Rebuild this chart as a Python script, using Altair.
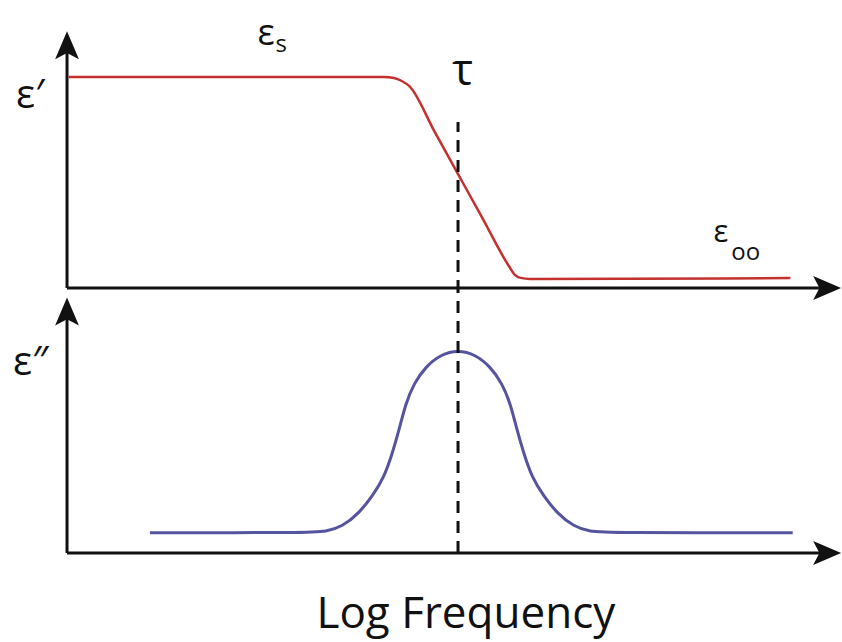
import altair as alt
import pandas as pd

# Log-frequency axis in arbitrary units; the relaxation (tau) sits at 5.
# Real part of the permittivity, normalised so that eps_s = 1.
real_u = [0.02, 4.05, 4.18, 4.28, 4.38, 4.70, 5.00, 5.30, 5.65, 5.72, 5.80, 5.92, 9.25]
real_v = [1.00, 1.00, 0.995, 0.981, 0.956, 0.741, 0.54, 0.339, 0.104, 0.065, 0.048, 0.043, 0.047]

# Imaginary part (loss peak), normalised so the peak is 1.
imag_u = [1.06, 3.095, 3.308, 3.520, 3.734, 3.904, 4.054, 4.160, 4.246, 4.331, 4.437, 4.587, 4.779,
          5.000,
          5.221, 5.413, 5.563, 5.669, 5.754, 5.840, 5.946, 6.096, 6.266, 6.480, 6.692, 6.905, 9.28]
imag_v = [0.100, 0.100, 0.105, 0.130, 0.196, 0.280, 0.372, 0.491, 0.606, 0.737, 0.836, 0.918, 0.978,
          1.000,
          0.978, 0.918, 0.836, 0.737, 0.606, 0.491, 0.372, 0.280, 0.196, 0.130, 0.105, 0.100, 0.100]

tau_u = 5.0

# Text annotations: (text, u, v, font size, align)
top_labels = [
    ("ε′", -0.47, 0.853, 40, "center"),
    ("ε", 2.545, 1.152, 36, "center"),
    ("s", 2.74, 1.118, 24, "center"),
    ("τ", 5.06, 0.962, 44, "center"),
    ("ε", 8.36, 0.218, 31, "center"),
    ("oo", 8.68, 0.133, 24, "center"),
]
bottom_labels = [
    ("ε″", -0.69, 0.877, 40, "left"),
    ("Log Frequency", 5.10, -0.369, 44, "center"),
]

W = 842
TOP_H = 292
BOT_H = 350
X_DOMAIN = [-0.857, 9.910]
TOP_DOMAIN = [-0.019, 1.365]
BOT_DOMAIN = [-0.4384, 1.2857]

FONT = "Open Sans"
INK = "#111111"
RED = "#c3302e"
BLUE = "#55549f"

UP_ARROW = "M0,-1 L0.85,1 L0,0.55 L-0.85,1 Z"
RIGHT_ARROW = "M1,0 L-1,0.85 L-0.55,0 L-1,-0.85 Z"


def xs():
    return alt.Scale(domain=X_DOMAIN, nice=False, zero=False)


def panel(domain, curve_df, color, width_px, interp, axis_top, x_arrow_end, dash_top, dash_bottom, labels):
    ys = alt.Scale(domain=domain, nice=False, zero=False)
    X = lambda f: alt.X(f, type="quantitative", scale=xs(), axis=None)
    Y = lambda f: alt.Y(f, type="quantitative", scale=ys, axis=None)

    axes_df = pd.DataFrame({
        "u": [0.0, 0.0], "v": [0.0, 0.0],
        "u2": [0.0, x_arrow_end], "v2": [axis_top, 0.0],
    })
    axes = alt.Chart(axes_df).mark_rule(color=INK, strokeWidth=3).encode(
        x=X("u"), y=Y("v"), x2="u2", y2="v2"
    )

    up_df = pd.DataFrame({"u": [0.0], "v": [axis_top]})
    up = alt.Chart(up_df).mark_point(
        shape=UP_ARROW, size=784, filled=True, color=INK, opacity=1, strokeWidth=0
    ).encode(x=X("u"), y=Y("v"))

    right_df = pd.DataFrame({"u": [x_arrow_end], "v": [0.0]})
    right = alt.Chart(right_df).mark_point(
        shape=RIGHT_ARROW, size=784, filled=True, color=INK, opacity=1, strokeWidth=0
    ).encode(x=X("u"), y=Y("v"))

    dash_df = pd.DataFrame({"u": [tau_u], "v": [dash_bottom], "v2": [dash_top]})
    dash = alt.Chart(dash_df).mark_rule(
        color=INK, strokeWidth=3, strokeDash=[12, 8]
    ).encode(x=X("u"), y=Y("v"), y2="v2")

    curve = alt.Chart(curve_df).mark_line(
        color=color, strokeWidth=width_px, interpolate=interp
    ).encode(x=X("u"), y=Y("v"), order="i:Q")

    layers = [axes, up, right, curve, dash]
    for text, u, v, size, align in labels:
        df = pd.DataFrame({"u": [u], "v": [v], "t": [text]})
        layers.append(
            alt.Chart(df).mark_text(
                font=FONT, fontSize=size, color=INK, align=align, baseline="alphabetic"
            ).encode(x=X("u"), y=Y("v"), text="t:N")
        )
    return alt.layer(*layers)


real_df = pd.DataFrame({"u": real_u, "v": real_v, "i": range(len(real_u))})
imag_df = pd.DataFrame({"u": imag_u, "v": imag_v, "i": range(len(imag_u))})

top = panel(TOP_DOMAIN, real_df, RED, 2.5, "monotone", 1.15, 9.72, 0.787, TOP_DOMAIN[0],
            top_labels).properties(width=W, height=TOP_H)
bottom = panel(BOT_DOMAIN, imag_df, BLUE, 3, "basis", 1.19, 9.72, BOT_DOMAIN[1], 0.0,
               bottom_labels).properties(width=W, height=BOT_H)

chart = alt.vconcat(top, bottom, spacing=0, bounds="flush").properties(
    padding=0, background="white"
).configure_view(stroke=None)

chart.save("out.html", embed_options={"renderer": "svg", "actions": False})
